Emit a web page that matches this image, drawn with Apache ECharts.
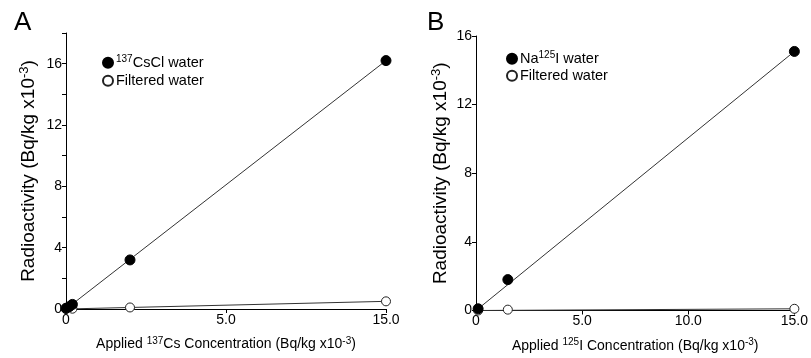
<!DOCTYPE html>
<html><head><meta charset="utf-8">
<script src="https://cdn.jsdelivr.net/npm/echarts@6/dist/echarts.min.js"></script>
<style>html,body{margin:0;padding:0;background:#fff}#c{width:811px;height:358px}</style>
</head><body><div id="c"></div>
<script>
// Panel A data (x axis in the original figure is piecewise: 0–5 and 5–15 each take half the width)
const aCsX = [0, 0.1, 0.2, 2.0, 15.0];
const aCsY = [0.05, 0.15, 0.3, 3.2, 16.2];
const aFiltX = [0, 0.2, 2.0, 15.0];
const aFiltY = [0, 0.02, 0.1, 0.5];
const aCsFitX = [0, 15];
const aCsFitY = [0, 16.2];
const aFiltFitX = [0, 15];
const aFiltFitY = [0, 0.5];
const aXTicks = [0, 5, 15];
const aYLabels = [0, 4, 8, 12, 16];
// Panel B data
const bNaX = [0.1, 1.5, 15.0];
const bNaY = [0.1, 1.8, 15.1];
const bFiltX = [0.1, 1.5, 15.0];
const bFiltY = [0, 0.05, 0.1];
const bNaFit = [[0, 0], [15, 15.1]];
const bFiltFit = [[0, 0], [15, 0.1]];
const bXTicks = [0, 5, 10, 15];

// piecewise axis for panel A: 0..5 -> 0..7.5, 5..15 -> 7.5..15
const toA = x => x <= 5 ? x * 1.5 : 7.5 + (x - 5) * 0.75;
const fromA = u => u <= 7.5 ? u / 1.5 : 5 + (u - 7.5) / 0.75;
const zipA = (xs, ys) => xs.map((x, i) => [toA(x), ys[i]]);
const zip = (xs, ys) => xs.map((x, i) => [x, ys[i]]);
const FONT = 'Liberation Sans';
const mk = (fs) => ({n: {fontSize: fs, fontFamily: FONT, color: '#000', lineHeight: fs + 3},
                     s: {fontSize: Math.round(fs * 0.68), fontFamily: FONT, color: '#000', verticalAlign: 'top', lineHeight: fs + 3}});
const fmtX = v => v === 0 ? '0' : v.toFixed(1);

const chart = echarts.init(document.getElementById('c'), null, {renderer: 'canvas'});
const axisCommon = {
  axisLine: {show: true, lineStyle: {color: '#000', width: 1}},
  axisTick: {show: true, inside: false, length: 4, lineStyle: {color: '#000'}},
  splitLine: {show: false},
  axisLabel: {color: '#000', fontFamily: FONT, fontSize: 14, margin: 4}
};
const yName = '{n|Radioactivity (Bq/kg x10}{s|-3}{n|)}';
const legendText = {rich: mk(14.5), padding: [0, 0, 0, -2]};
chart.setOption({
  animation: false,
  textStyle: {fontFamily: FONT},
  title: [
    {text: 'A', left: 9, top: 5, textStyle: {fontSize: 26, fontWeight: 'normal', fontFamily: FONT, color: '#000'}},
    {text: 'B', left: 422, top: 5, textStyle: {fontSize: 26, fontWeight: 'normal', fontFamily: FONT, color: '#000'}}
  ],
  grid: [
    {left: 66, right: 425, top: 33, bottom: 49},
    {left: 476, right: 16, top: 36, bottom: 42}
  ],
  legend: [
    {show: true, left: 97, top: 49, orient: 'vertical', itemWidth: 10, itemHeight: 10, itemGap: 3, icon: 'circle',
     data: ['137CsCl water', 'Filtered water A'],
     formatter: n => n === '137CsCl water' ? '{s|137}{n|CsCl water}' : '{n|Filtered water}',
     textStyle: legendText},
    {show: true, left: 501, top: 45, orient: 'vertical', itemWidth: 10, itemHeight: 10, itemGap: 2, icon: 'circle',
     data: ['Na125I water', 'Filtered water B'],
     formatter: n => n === 'Na125I water' ? '{n|Na}{s|125}{n|I water}' : '{n|Filtered water}',
     textStyle: legendText}
  ],
  xAxis: [
    Object.assign({}, axisCommon, {gridIndex: 0, type: 'value', min: 0, max: 15,
      axisTick: Object.assign({}, axisCommon.axisTick, {customValues: aXTicks.map(toA)}),
      axisLabel: Object.assign({}, axisCommon.axisLabel, {customValues: aXTicks.map(toA), formatter: u => fmtX(Math.round(fromA(u) * 10) / 10)}),
      name: '{n|Applied }{s|137}{n|Cs Concentration (Bq/kg x10}{s|-3}{n|)}', nameLocation: 'middle', nameGap: 27,
      nameTextStyle: {rich: mk(14)}}),
    Object.assign({}, axisCommon, {gridIndex: 1, type: 'value', min: 0, max: 15,
      axisTick: Object.assign({}, axisCommon.axisTick, {customValues: bXTicks}),
      axisLabel: Object.assign({}, axisCommon.axisLabel, {customValues: bXTicks, formatter: fmtX}),
      name: '{n|Applied }{s|125}{n|I Concentration (Bq/kg x10}{s|-3}{n|)}', nameLocation: 'middle', nameGap: 27,
      nameTextStyle: {rich: mk(14)}})
  ],
  yAxis: [
    Object.assign({}, axisCommon, {gridIndex: 0, type: 'value', min: 0, max: 18, interval: 2,
      axisLabel: Object.assign({}, axisCommon.axisLabel, {customValues: aYLabels}),
      name: yName, nameLocation: 'middle', nameGap: 26, nameRotate: 90,
      nameTextStyle: {rich: mk(19)}}),
    Object.assign({}, axisCommon, {gridIndex: 1, type: 'value', min: 0, max: 16, interval: 4,
      name: yName, nameLocation: 'middle', nameGap: 24, nameRotate: 90,
      nameTextStyle: {rich: mk(19)}})
  ],
  series: [
    {type: 'line', xAxisIndex: 0, yAxisIndex: 0, data: zipA(aCsFitX, aCsFitY), symbol: 'none', lineStyle: {color: '#333', width: 1}, z: 1},
    {type: 'line', xAxisIndex: 0, yAxisIndex: 0, data: zipA(aFiltFitX, aFiltFitY), symbol: 'none', lineStyle: {color: '#333', width: 1}, z: 1},
    {type: 'line', xAxisIndex: 1, yAxisIndex: 1, data: bNaFit, symbol: 'none', lineStyle: {color: '#333', width: 1}, z: 1},
    {type: 'line', xAxisIndex: 1, yAxisIndex: 1, data: bFiltFit, symbol: 'none', lineStyle: {color: '#333', width: 1}, z: 1},
    {name: '137CsCl water', type: 'scatter', xAxisIndex: 0, yAxisIndex: 0, data: zipA(aCsX, aCsY), symbolSize: 10,
     itemStyle: {color: '#000', borderColor: '#000', borderWidth: 1, opacity: 1}, z: 3},
    {name: 'Filtered water A', type: 'scatter', xAxisIndex: 0, yAxisIndex: 0, data: zipA(aFiltX, aFiltY), symbolSize: 9,
     itemStyle: {color: '#fff', borderColor: '#222', borderWidth: 1, opacity: 1}, z: 2},
    {name: 'Na125I water', type: 'scatter', xAxisIndex: 1, yAxisIndex: 1, data: zip(bNaX, bNaY), symbolSize: 10,
     itemStyle: {color: '#000', borderColor: '#000', borderWidth: 1, opacity: 1}, z: 3},
    {name: 'Filtered water B', type: 'scatter', xAxisIndex: 1, yAxisIndex: 1, data: zip(bFiltX, bFiltY), symbolSize: 9,
     itemStyle: {color: '#fff', borderColor: '#222', borderWidth: 1, opacity: 1}, z: 2}
  ]
});
</script></body></html>
